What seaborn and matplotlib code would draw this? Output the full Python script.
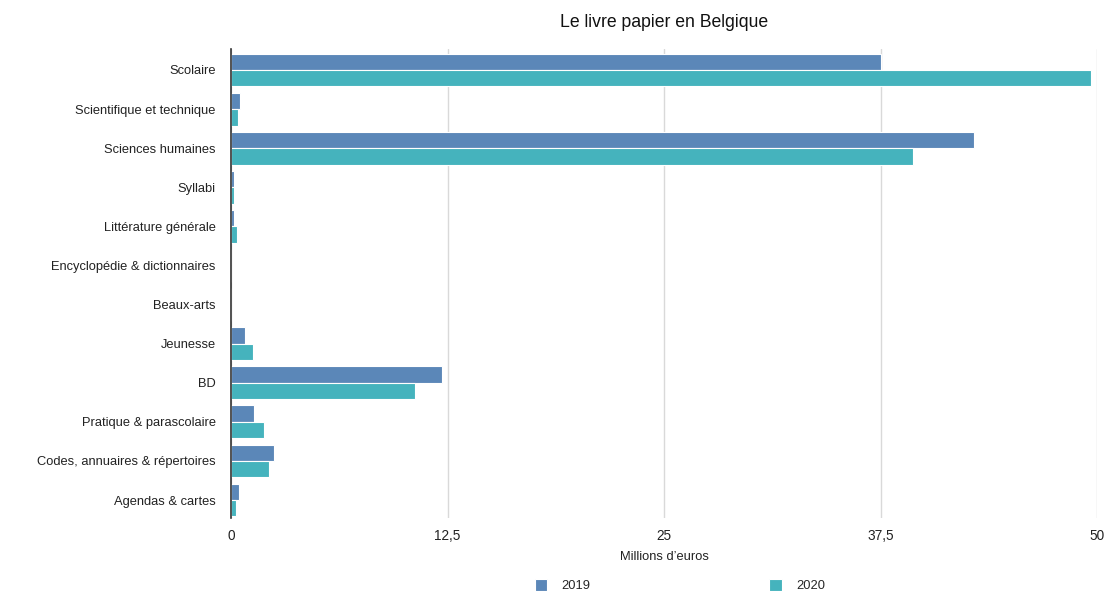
import matplotlib
matplotlib.use("Agg")
import matplotlib.pyplot as plt
import seaborn as sns
import pandas as pd
from matplotlib.ticker import FixedLocator, FuncFormatter

categories = [
    "Scolaire",
    "Scientifique et technique",
    "Sciences humaines",
    "Syllabi",
    "Littérature générale",
    "Encyclopédie & dictionnaires",
    "Beaux-arts",
    "Jeunesse",
    "BD",
    "Pratique & parascolaire",
    "Codes, annuaires & répertoires",
    "Agendas & cartes",
]
values_2019 = [37.5, 0.5, 42.9, 0.2, 0.15, 0.02, 0.01, 0.8, 12.2, 1.33, 2.48, 0.46]
values_2020 = [49.65, 0.4, 39.4, 0.2, 0.35, 0.01, 0.02, 1.27, 10.6, 1.9, 2.2, 0.29]
years = ["2019", "2020"]
colors = ["#5b87b8", "#45b3bd"]
ticks = [0, 12.5, 25, 37.5, 50]

df = pd.DataFrame({
    "Catégorie": categories * 2,
    "Valeur": values_2019 + values_2020,
    "Année": [years[0]] * len(categories) + [years[1]] * len(categories),
})

sns.set_style("white")
plt.rcParams["font.family"] = ["Liberation Sans", "DejaVu Sans"]

fs = 9.3
fig = plt.figure(figsize=(11.09, 5.91), dpi=100)
ax = fig.add_axes([231 / 1109, 1 - 518 / 591, (1097 - 231) / 1109, (518 - 49) / 591])

sns.barplot(
    data=df, x="Valeur", y="Catégorie", hue="Année", orient="h",
    palette=colors, order=categories, hue_order=years,
    width=0.84, edgecolor="white", linewidth=0.8, saturation=1, ax=ax,
    legend=True,
)

ax.set_xlim(0, 50)
ax.set_ylim(len(categories) - 0.54, -0.537)
ax.xaxis.set_major_locator(FixedLocator(ticks))
ax.xaxis.set_major_formatter(FuncFormatter(lambda v, p: f"{v:g}".replace(".", ",")))
ax.grid(axis="x", color="#d9d9d9", linewidth=1)
ax.set_axisbelow(True)
for s in ["top", "right", "bottom"]:
    ax.spines[s].set_visible(False)
ax.spines["left"].set_color("#333333")
ax.spines["left"].set_linewidth(1.2)
ax.tick_params(axis="x", length=4, color="#d9d9d9", labelsize=fs + 0.5, labelcolor="#222222", pad=4)
ax.tick_params(axis="y", length=0, labelsize=fs, labelcolor="#222222", pad=11)
ax.set_ylabel("")
ax.set_xlabel("Millions d\u2019euros", fontsize=fs, color="#222222", labelpad=6)
ax.set_title("Le livre papier en Belgique", fontsize=12.7, color="#111111", pad=16)

handles, labels = ax.get_legend_handles_labels()
ax.get_legend().remove()
fig.legend(
    handles, labels, loc="lower center", bbox_to_anchor=(0.613, -0.022),
    ncol=2, frameon=False, fontsize=fs, handlelength=1.0, handleheight=1.0,
    columnspacing=13.8, handletextpad=1.1,
)

fig.savefig("out.png", dpi=100)
